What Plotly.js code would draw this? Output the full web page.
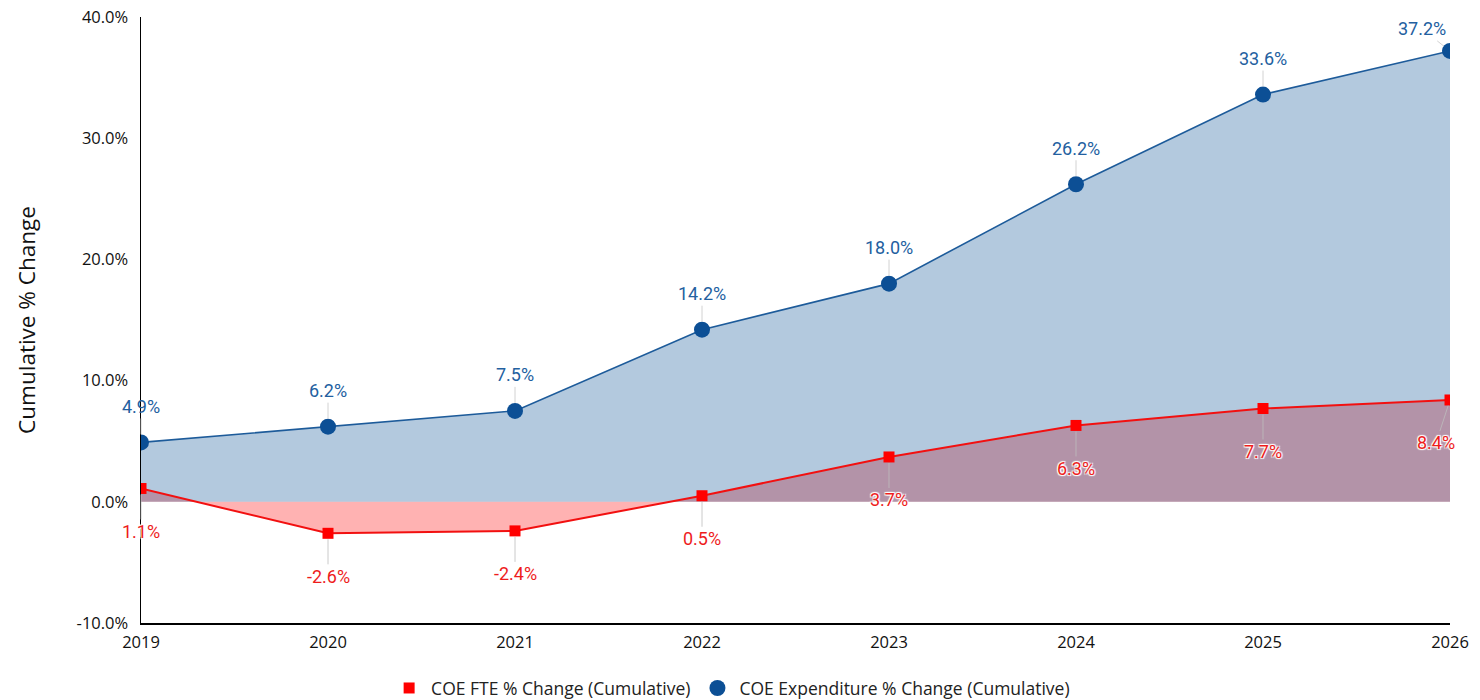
<!DOCTYPE html>
<html>
<head>
<meta charset="utf-8">
<script src="https://cdn.plot.ly/plotly-3.0.1.min.js"></script>
<style>html,body{margin:0;padding:0;background:#fff;}#chart{width:1480px;height:700px;}</style>
</head>
<body>
<div id="chart"></div>
<script>
const years = [2019, 2020, 2021, 2022, 2023, 2024, 2025, 2026];
const fteChange = [1.1, -2.6, -2.4, 0.5, 3.7, 6.3, 7.7, 8.4];
const expChange = [4.9, 6.2, 7.5, 14.2, 18.0, 26.2, 33.6, 37.2];
const fteName = 'COE FTE % Change (Cumulative)';
const expName = 'COE Expenditure % Change (Cumulative)';
const yTicks = [-10, 0, 10, 20, 30, 40];
const yTickText = yTicks.map(v => v.toFixed(1) + '%');

const blueText = '#23609f';
const redText = '#ee1c1c';
const axisFont = 'Open Sans';

const traces = [
  {
    x: years, y: fteChange, type: 'scatter', mode: 'lines', showlegend: false, hoverinfo: 'skip',
    fill: 'tozeroy', fillcolor: 'rgba(255,0,0,0.3)', line: {width: 0, color: 'rgba(0,0,0,0)'}
  },
  {
    x: years, y: expChange, type: 'scatter', mode: 'lines', showlegend: false, hoverinfo: 'skip',
    fill: 'tozeroy', fillcolor: 'rgba(2,75,145,0.3)', line: {color: '#1d5b9a', width: 1.6}
  },
  {
    x: years, y: fteChange, type: 'scatter', mode: 'lines', showlegend: false, hoverinfo: 'skip',
    line: {color: '#f21010', width: 2}
  },
  {
    x: years, y: fteChange, name: fteName, type: 'scatter', mode: 'markers', legendrank: 1,
    marker: {symbol: 'square', size: 11, color: '#ff0000'}
  },
  {
    x: years, y: expChange, name: expName, type: 'scatter', mode: 'markers', legendrank: 2,
    marker: {symbol: 'circle', size: 16, color: '#0c4f95'}
  }
];

const annotations = [];
years.forEach((yr, i) => {
  const last = i === years.length - 1;
  annotations.push({
    x: yr, y: expChange[i], xref: 'x', yref: 'y',
    text: expChange[i].toFixed(1) + '%',
    showarrow: true, arrowhead: 0, arrowwidth: 1, arrowcolor: 'rgba(200,200,200,0.8)',
    ax: last ? -28 : 0, ay: last ? -22 : -36, standoff: 8,
    font: {family: 'Roboto', size: 18, color: blueText}
  });
  annotations.push({
    x: yr, y: fteChange[i], xref: 'x', yref: 'y',
    text: fteChange[i].toFixed(1) + '%',
    showarrow: true, arrowhead: 0, arrowwidth: 1, arrowcolor: 'rgba(190,190,190,0.8)',
    ax: last ? -14 : 0, ay: 43, standoff: 6,
    font: {family: 'Roboto', size: 18, color: redText,
           shadow: '1px 1px 1px #fff, -1px -1px 1px #fff, 1px -1px 1px #fff, -1px 1px 1px #fff'}
  });
});

const layout = {
  width: 1480, height: 700,
  margin: {l: 141, r: 30, t: 17, b: 77},
  paper_bgcolor: '#fff', plot_bgcolor: '#fff',
  showlegend: true,
  legend: {
    orientation: 'h', xref: 'container', yref: 'container',
    x: 0.494, xanchor: 'center', y: 0.017, yanchor: 'middle',
    font: {family: axisFont, size: 17.5, color: '#222'},
    itemsizing: 'trace', itemwidth: 34
  },
  xaxis: {
    range: [2019, 2026], tickvals: years, ticktext: years.map(String),
    showgrid: false, zeroline: false, showline: true, linecolor: '#000', linewidth: 1.5,
    ticks: '', ticklabelstandoff: 4, tickfont: {family: axisFont, size: 16.5, color: '#111'}
  },
  yaxis: {
    range: [-10, 40], tickvals: yTicks, ticktext: yTickText,
    showgrid: false, zeroline: false, showline: true, linecolor: '#000', linewidth: 1.5,
    ticks: '', ticklabelstandoff: 8, tickfont: {family: axisFont, size: 16.5, color: '#111'},
    title: {text: 'Cumulative % Change', font: {family: axisFont, size: 22.5, color: '#111'}, standoff: 34}
  },
  annotations: annotations
};

Plotly.newPlot('chart', traces, layout, {displayModeBar: false, staticPlot: true});
</script>
</body>
</html>
